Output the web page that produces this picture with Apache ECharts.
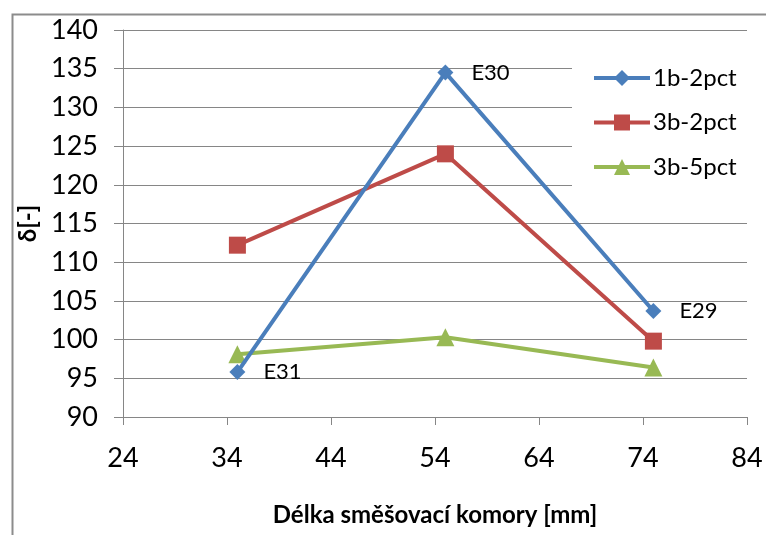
<!DOCTYPE html>
<html>
<head>
<meta charset="utf-8">
<script src="https://cdn.jsdelivr.net/npm/echarts@6/dist/echarts.min.js"></script>
<style>
  html, body { margin: 0; padding: 0; background: #fff; }
  #chart { width: 766px; height: 535px; }
</style>
</head>
<body>
<div id="chart"></div>
<script>
// Mixing chamber length [mm]
const chamberLength = [35, 55, 75];

// delta values for each configuration
const series1b2pct = [95.8, 134.5, 103.7];
const series3b2pct = [112.2, 124.0, 99.8];
const series3b5pct = [98.1, 100.3, 96.4];

// experiment names shown next to the 1b-2pct points
const experimentNames = ['E31', 'E30', 'E29'];

const seriesNames = ['1b-2pct', '3b-2pct', '3b-5pct'];
const colors = ['#4A7EBB', '#BE4B48', '#98B954'];

const FONT = 'Lato, "Open Sans", sans-serif';

function pairs(values, names) {
  return values.map((v, i) => {
    const item = { value: [chamberLength[i], v] };
    if (names) item.name = names[i];
    return item;
  });
}

const chart = echarts.init(document.getElementById('chart'));

chart.setOption({
  animation: false,
  backgroundColor: '#fff',
  textStyle: { fontFamily: FONT },
  graphic: [{
    type: 'rect',
    left: 10, top: 12,
    shape: { width: 800, height: 600 },
    style: { fill: 'none', stroke: '#8c8c8c', lineWidth: 2 },
    silent: true
  }],
  grid: {
    left: 123, right: 19, top: 30, bottom: 118,
    containLabel: false,
    outerBoundsMode: 'none'
  },
  xAxis: {
    type: 'value',
    min: 24, max: 84, interval: 10,
    name: 'Délka směšovací komory [mm]',
    nameLocation: 'middle',
    nameGap: 86,
    nameTextStyle: { fontFamily: FONT, fontSize: 24, fontWeight: 'bold', color: '#000' },
    axisLine: { show: true, lineStyle: { color: '#868686', width: 1 } },
    axisTick: { show: true, length: 8, lineStyle: { color: '#868686' } },
    axisLabel: { fontFamily: FONT, fontSize: 27, color: '#000', margin: 28 },
    splitLine: { show: false }
  },
  yAxis: {
    type: 'value',
    min: 90, max: 140, interval: 5,
    name: 'δ[-]',
    nameLocation: 'middle',
    nameGap: 71,
    nameRotate: 90,
    nameTextStyle: { fontFamily: FONT, fontSize: 24, fontWeight: 'bold', color: '#000' },
    axisLine: { show: true, lineStyle: { color: '#868686', width: 1 } },
    axisTick: { show: true, length: 9, lineStyle: { color: '#868686' } },
    axisLabel: { fontFamily: FONT, fontSize: 27, color: '#000', margin: 25 },
    splitLine: { show: true, lineStyle: { color: '#868686', width: 1 } }
  },
  legend: {
    orient: 'vertical',
    left: 572, top: 54,
    backgroundColor: '#fff',
    padding: [12, 20, 14, 20],
    itemWidth: 56, itemHeight: 20, itemGap: 20.5,
    lineStyle: { width: 4 },
    textStyle: { fontFamily: FONT, fontSize: 24, color: '#000', padding: [0, 0, 0, -2] },
    data: seriesNames
  },
  series: [
    {
      name: seriesNames[0],
      type: 'line',
      data: pairs(series1b2pct, experimentNames),
      symbol: 'diamond', symbolSize: 16,
      lineStyle: { color: colors[0], width: 4 },
      itemStyle: { color: colors[0] },
      label: {
        show: true, position: 'right', distance: 18,
        formatter: p => p.name,
        fontFamily: FONT, fontSize: 22, color: '#000'
      },
      z: 4
    },
    {
      name: seriesNames[1],
      type: 'line',
      data: pairs(series3b2pct),
      symbol: 'rect', symbolSize: 17,
      lineStyle: { color: colors[1], width: 4 },
      itemStyle: { color: colors[1] },
      z: 3
    },
    {
      name: seriesNames[2],
      type: 'line',
      data: pairs(series3b5pct),
      symbol: 'triangle', symbolSize: 18,
      lineStyle: { color: colors[2], width: 4 },
      itemStyle: { color: colors[2] },
      z: 2
    }
  ]
});
</script>
</body>
</html>
